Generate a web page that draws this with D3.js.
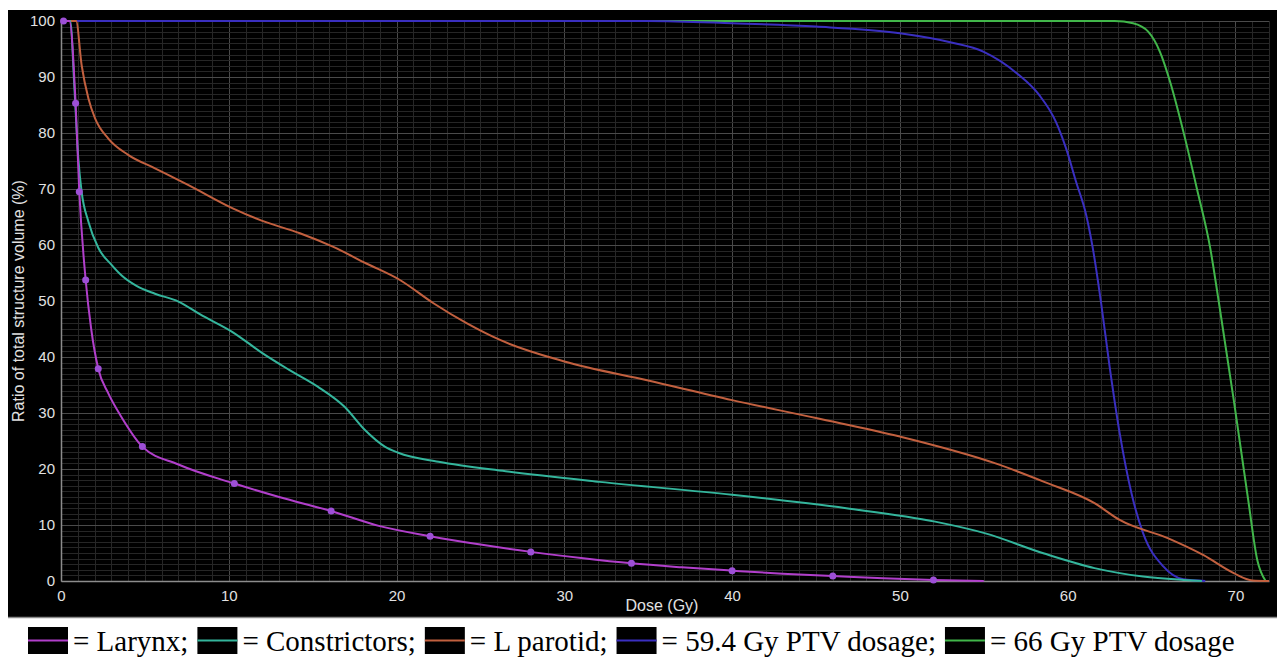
<!DOCTYPE html>
<html><head><meta charset="utf-8">
<script src="https://cdn.jsdelivr.net/npm/d3@7"></script>
<style>html,body{margin:0;padding:0;background:#fff;}svg{display:block;}</style>
</head><body>
<svg id="chart" width="1277" height="661"></svg>
<script>
// ---- data ----
const xTicks = [0, 10, 20, 30, 40, 50, 60, 70];
const yTicks = [0, 10, 20, 30, 40, 50, 60, 70, 80, 90, 100];
const xTitle = "Dose (Gy)";
const yTitle = "Ratio of total structure volume (%)";

const larynxDose = [0, 0.5, 0.87, 1.09, 1.47, 1.8, 2.22, 2.82, 3.6, 4.85, 7, 10.33, 13, 16.1, 19, 22, 25, 28, 31, 34, 37, 40, 43, 46, 49, 52, 55];
const larynxVol  = [100, 100, 85.3, 69.5, 53.75, 45, 37.9, 33.5, 29.3, 24, 20.8, 17.4, 15.0, 12.5, 9.8, 8, 6.5, 5.2, 4.1, 3.15, 2.45, 1.85, 1.3, 0.9, 0.5, 0.2, 0];
const larynxMarkDose = [0.15, 0.87, 1.09, 1.47, 2.22, 4.85, 10.33, 16.1, 22, 28, 34, 40, 46, 52];
const larynxMarkVol  = [100, 85.3, 69.5, 53.75, 37.9, 24, 17.4, 12.5, 8, 5.2, 3.15, 1.85, 0.9, 0.2];

const constrictorDose = [0, 0.55, 0.8, 1.03, 1.23, 1.63, 2.22, 3.0, 3.6, 4.5, 5.6, 7.0, 8.3, 10.2, 12.0, 13.6, 15.3, 16.9, 18.1, 19.3, 20.1, 22.5, 26.5, 32.1, 40, 46.8, 52.1, 55.1, 58.6, 61.6, 64.5, 66.9, 68];
const constrictorVol  = [100, 100, 88, 75.5, 69.5, 64.2, 59.5, 56.5, 54.6, 52.7, 51.3, 49.9, 47.6, 44.5, 40.7, 37.7, 34.7, 31.1, 27, 24, 22.9, 21.3, 19.6, 17.7, 15.4, 13, 10.6, 8.5, 4.9, 2.3, 0.8, 0.2, 0];

const parotidDose = [0, 0.9, 1.23, 1.63, 2.03, 2.82, 4.0, 5.6, 7.6, 10.27, 12, 14.24, 16.2, 18.2, 20.2, 22.2, 24.2, 26.2, 30, 35, 40, 45, 50, 55.7, 58.6, 61.6, 63.1, 66.0, 68.1, 69.9, 71.0, 72];
const parotidVol  = [100, 100, 92.1, 86.2, 82.6, 79.0, 76.1, 73.7, 70.7, 66.5, 64.3, 62.1, 59.7, 56.7, 53.75, 49.6, 46, 43, 39.2, 35.8, 32.3, 29.1, 25.8, 21, 17.7, 13.9, 10.9, 7.6, 4.6, 1.4, 0.1, 0];

const ptv594Dose = [0, 35, 40, 45, 50, 53, 55, 57, 58.3, 59.3, 59.9, 60.5, 61.1, 61.5, 62, 62.5, 63.1, 63.8, 64.5, 65.7, 66.9, 68.2];
const ptv594Vol  = [100, 100, 99.6, 99, 97.8, 96.2, 94.5, 90.6, 86.8, 82, 77.3, 71.3, 65.4, 59.4, 49.5, 38.3, 26.4, 15.7, 8.5, 2.6, 0.3, 0];

const ptv66Dose = [0, 62.8, 63.9, 64.8, 65.5, 66.1, 66.9, 67.7, 68.5, 69.0, 69.9, 70.76, 71.3, 71.8];
const ptv66Vol  = [100, 100, 99.6, 98.1, 94.5, 89.2, 80.2, 70.1, 59.4, 50, 32.3, 14.5, 3.75, 0];

const seriesNames = ["Larynx", "Constrictors", "L parotid", "59.4 Gy PTV dosage", "66 Gy PTV dosage"];
const seriesColors = ["#b13fcb", "#34b59c", "#c2603f", "#3a2fc0", "#41b64a"];
const legendLabels = ["= Larynx;", "= Constrictors;", "= L parotid;", "= 59.4 Gy PTV dosage;", "= 66 Gy PTV dosage"];

// ---- drawing ----
const svg = d3.select("#chart");
const x = d3.scaleLinear().domain([0, 72]).range([61, 1269]);
const y = d3.scaleLinear().domain([0, 100]).range([581, 21]);

svg.append("rect").attr("x", 8).attr("y", 10).attr("width", 1269).attr("height", 607).attr("fill", "#000");
svg.append("line").attr("x1", 8).attr("x2", 1277).attr("y1", 617.5).attr("y2", 617.5).attr("stroke", "#8a8a8a").attr("stroke-width", 1.5);

const grid = svg.append("g").attr("shape-rendering", "crispEdges");
d3.range(0, 73).forEach(v => {
  grid.append("line").attr("x1", Math.round(x(v)) + 0.5).attr("x2", Math.round(x(v)) + 0.5)
    .attr("y1", y(100)).attr("y2", y(0))
    .attr("stroke", v % 10 === 0 ? "#4a4a4a" : "#262626").attr("stroke-width", 1);
});
d3.range(0, 101).forEach(v => {
  grid.append("line").attr("y1", Math.round(y(v)) + 0.5).attr("y2", Math.round(y(v)) + 0.5)
    .attr("x1", x(0)).attr("x2", x(72))
    .attr("stroke", v % 10 === 0 ? "#4a4a4a" : "#262626").attr("stroke-width", 1);
});

const font = "'Liberation Sans', Arial, Helvetica, sans-serif";
const gx = svg.append("g").attr("transform", `translate(0,${y(0)})`)
  .call(d3.axisBottom(x).tickValues(xTicks).tickSize(0).tickPadding(9).tickFormat(d3.format("d")));
const gy = svg.append("g").attr("transform", `translate(${x(0)},0)`)
  .call(d3.axisLeft(y).tickValues(yTicks).tickSize(0).tickPadding(6).tickFormat(d3.format("d")));
[gx, gy].forEach(g => {
  g.select(".domain").attr("stroke", "#8c8c8c").attr("stroke-width", 1.5);
  g.selectAll("text").attr("fill", "#e2e2e2").style("font-family", font).style("font-size", "15px");
});

svg.append("text").attr("x", 662).attr("y", 611).attr("text-anchor", "middle")
  .attr("fill", "#e2e2e2").style("font-family", font).style("font-size", "16px").text(xTitle);
svg.append("text").attr("transform", "rotate(-90)").attr("x", -(y(0) + y(100)) / 2).attr("y", 24)
  .attr("text-anchor", "middle").attr("fill", "#e2e2e2").style("font-family", font).style("font-size", "16px").text(yTitle);

const line = d3.line().x(d => x(d[0])).y(d => y(d[1])).curve(d3.curveMonotoneX);
const series = [
  {dose: larynxDose, vol: larynxVol},
  {dose: constrictorDose, vol: constrictorVol},
  {dose: parotidDose, vol: parotidVol},
  {dose: ptv594Dose, vol: ptv594Vol},
  {dose: ptv66Dose, vol: ptv66Vol}
];
const drawOrder = [4, 3, 2, 1, 0];
drawOrder.forEach(i => {
  const s = series[i];
  svg.append("path").datum(s.dose.map((d, j) => [d, s.vol[j]]))
    .attr("d", line).attr("fill", "none").attr("stroke", seriesColors[i]).attr("stroke-width", 2);
});
svg.append("g").selectAll("circle").data(larynxMarkDose.map((d, j) => [d, larynxMarkVol[j]]))
  .join("circle").attr("cx", d => x(d[0])).attr("cy", d => y(d[1])).attr("r", 3.5).attr("fill", "#9d4fd6");

// ---- legend ----
const leg = svg.append("g");
const legFont = 29;
let cx = 28;
legendLabels.forEach((lab, i) => {
  leg.append("rect").attr("x", cx).attr("y", 627).attr("width", 40).attr("height", 27).attr("fill", "#000");
  leg.append("line").attr("x1", cx).attr("x2", cx + 40).attr("y1", 640.5).attr("y2", 640.5)
    .attr("stroke", seriesColors[i]).attr("stroke-width", 2);
  cx += 45;
  const t = leg.append("text").attr("x", cx).attr("y", 651).attr("fill", "#000")
    .style("font-family", "'Liberation Serif', 'Times New Roman', serif").style("font-size", legFont + "px").text(lab);
  cx += t.node().getComputedTextLength() + 9;
});
</script>
</body></html>
